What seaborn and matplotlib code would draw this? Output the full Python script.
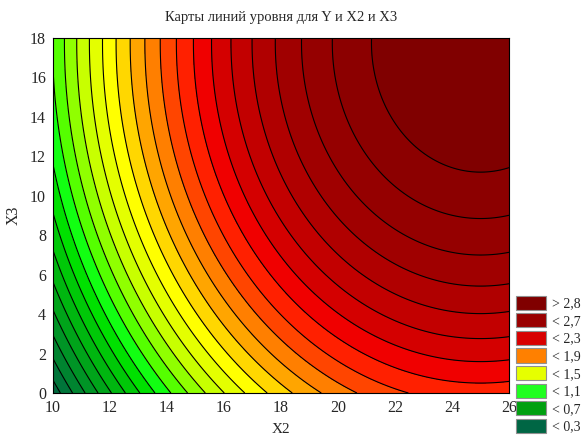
import numpy as np
import matplotlib
matplotlib.use("Agg")
import matplotlib.pyplot as plt
import seaborn as sns
from matplotlib.patches import Patch

# Fitted response surface: Y = M - a(X2-x0)^2 - b(X3-y0)^2
surface_coef = {"M": 2.918, "a": 0.00806, "x0": 25.0, "b": 0.00275, "y0": 17.75}
x2_range = [10, 26]
x3_range = [0, 18]

contour_levels = [round(0.1 * i, 1) for i in range(0, 29)]  # 0.0 .. 2.8
band_colors = [
    "#005A46", "#005F40", "#00663C", "#00753A", "#008430", "#009426",
    "#00A41A", "#00B610", "#00C808", "#00E000", "#12FF12", "#55FF00",
    "#90FF00", "#C8FF00", "#E4FF00", "#FFFF00", "#FFD700", "#FFA500",
    "#FF7F00", "#FF4500", "#FF2000", "#F00000", "#D40000", "#C20000",
    "#B00000", "#A00000", "#950000", "#8C0000", "#800000",
]
legend_labels = ["> 2,8", "< 2,7", "< 2,3", "< 1,9", "< 1,5", "< 1,1", "< 0,7", "< 0,3"]
legend_colors = ["#800000", "#990000", "#D80000", "#FF8000", "#E6FF00", "#20FF20", "#00A010", "#006644"]

sns.set_style("ticks")
plt.rcParams["font.family"] = ["Liberation Serif", "DejaVu Serif"]

x2 = np.linspace(x2_range[0], x2_range[1], 400)
x3 = np.linspace(x3_range[0], x3_range[1], 400)
X2, X3 = np.meshgrid(x2, x3)
c = surface_coef
Y = c["M"] - c["a"] * (X2 - c["x0"]) ** 2 - c["b"] * (X3 - c["y0"]) ** 2

fig = plt.figure(figsize=(5.84, 4.37), dpi=100)
ax = fig.add_axes([0.0908, 0.1007, 0.7808, 0.8123])

fill_levels = contour_levels + [3.5]
ax.contourf(X2, X3, Y, levels=fill_levels, colors=band_colors)
ax.contour(X2, X3, Y, levels=contour_levels[1:], colors="black", linewidths=0.8)

ax.set_xlim(*x2_range)
ax.set_ylim(*x3_range)
ax.set_xticks(np.arange(10, 27, 2))
ax.set_yticks(np.arange(0, 19, 2))
ax.set_xticks(np.arange(10, 27, 1), minor=True)
ax.tick_params(direction="in", top=True, right=True, labelsize=11.5, length=3, width=0.6)
ax.tick_params(axis="x", pad=5)
ax.tick_params(axis="y", pad=5)
ax.tick_params(which="minor", direction="in", top=True, length=2, width=0.6)
for s in ax.spines.values():
    s.set_linewidth(0.8)
    s.set_color("black")

ax.set_xlabel("X2", fontsize=11, labelpad=5)
ax.set_ylabel("X3", fontsize=11.5, labelpad=6)
ax.set_title("Карты линий уровня для Y и X2 и X3", fontsize=10.5, pad=12)

handles = [Patch(facecolor=col, edgecolor="#909090", linewidth=0.8) for col in legend_colors]
fig.legend(handles, legend_labels, loc="lower left", bbox_to_anchor=(0.884, 0.008),
           frameon=False, fontsize=10, handlelength=2.15, handleheight=1.2,
           labelspacing=0.2, handletextpad=0.4, borderpad=0.0, borderaxespad=0.0)

fig.savefig("out.png", dpi=100)
